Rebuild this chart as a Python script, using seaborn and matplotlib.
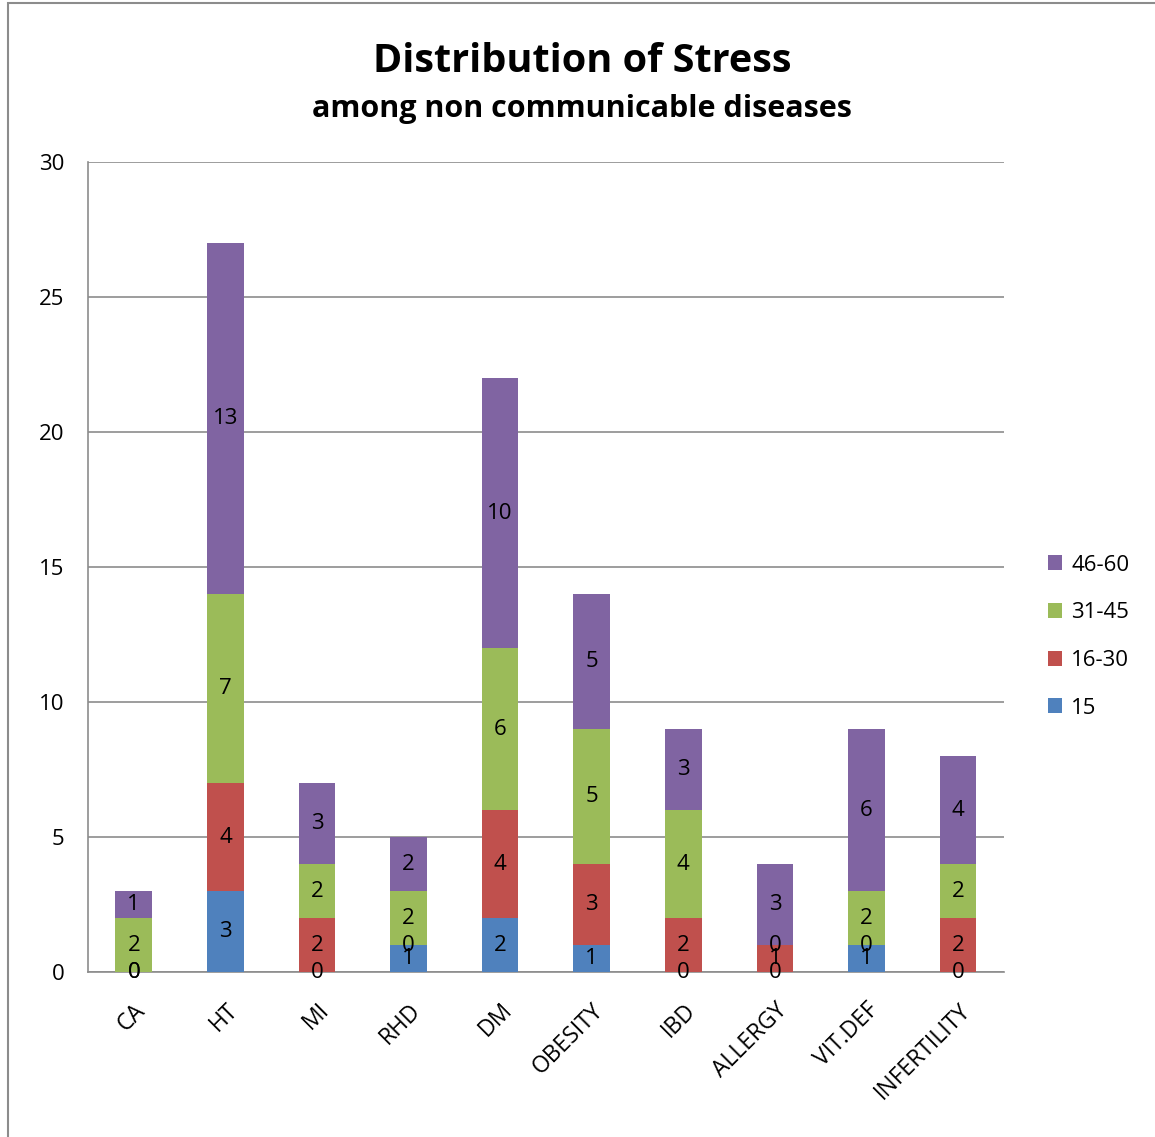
import numpy as np
import pandas as pd
import matplotlib
matplotlib.use("Agg")
import matplotlib.pyplot as plt
import seaborn as sns
from matplotlib.patches import Rectangle

sns.set_style("white")
plt.rcParams['font.family'] = ['Open Sans', 'DejaVu Sans']
plt.rcParams['text.color'] = 'black'
plt.rcParams['xtick.color'] = 'black'
plt.rcParams['ytick.color'] = 'black'

# veriler
diseases = ["CA", "HT", "MI", "RHD", "DM", "OBESITY", "IBD", "ALLERGY", "VIT.DEF", "INFERTILITY"]
g15 = [0, 3, 0, 1, 2, 1, 0, 0, 1, 0]
g16_30 = [0, 4, 2, 0, 4, 3, 2, 1, 0, 2]
g31_45 = [2, 7, 2, 2, 6, 5, 4, 0, 2, 2]
g46_60 = [1, 13, 3, 2, 10, 5, 3, 3, 6, 4]

series = ["15", "16-30", "31-45", "46-60"]
colors = {"15": "#4F81BD", "16-30": "#C0504D", "31-45": "#9BBB59", "46-60": "#8064A2"}

df = pd.DataFrame({"disease": diseases, "15": g15, "16-30": g16_30,
                   "31-45": g31_45, "46-60": g46_60})
cum = df[series].cumsum(axis=1)

fig = plt.figure(figsize=(11.55, 11.37), dpi=100)
ax = fig.add_axes([0.0762, 0.1451, 0.793, 0.7124])

# üstten alta doğru birikimli çubuklar
for s in reversed(series):
    sns.barplot(x=df["disease"], y=cum[s], color=colors[s], width=0.4,
                saturation=1, ax=ax, label=s, zorder=3, linewidth=0)

# segment etiketleri
for i in range(len(diseases)):
    bottom = 0
    for s in series:
        v = df.loc[i, s]
        ax.text(i, bottom + v / 2, str(v), ha="center", va="center",
                fontsize=16, color="black", zorder=5)
        bottom += v

ax.set_ylim(0, 30)
ax.set_xlim(-0.5, len(diseases) - 0.5)
ax.set_yticks(range(0, 31, 5))
ax.yaxis.grid(True, color="#8c8c8c", linewidth=1.2)
ax.set_axisbelow(True)
ax.set_xlabel("")
ax.set_ylabel("")
for side in ["top", "right"]:
    ax.spines[side].set_visible(False)
for side in ["left", "bottom"]:
    ax.spines[side].set_color("#8c8c8c")
    ax.spines[side].set_linewidth(1.2)

ax.set_xticks(np.arange(len(diseases)))
ax.set_xticklabels(diseases, rotation=45, ha="right", rotation_mode="anchor", fontsize=16.5)
ax.tick_params(axis="x", length=0, pad=19)
ax.set_xticks(np.arange(-0.5, len(diseases)), minor=True)
ax.tick_params(axis="x", which="minor", length=7, color="#8c8c8c", width=1.2)
ax.tick_params(axis="y", length=7, color="#8c8c8c", width=1.2, labelsize=16, labelcolor="black", pad=10)

handles, labels = ax.get_legend_handles_labels()
leg = ax.legend(handles, labels, loc="center left", bbox_to_anchor=(1.026, 0.414),
                frameon=False, fontsize=16, handlelength=0.65, handleheight=0.65,
                labelspacing=1.2, handletextpad=0.4)

fig.text(0.504, 0.946, "Distribution of Stress", ha="center", va="center",
         fontsize=28.5, fontweight="bold", color="black")
fig.text(0.504, 0.904, "among non communicable diseases", ha="center", va="center",
         fontsize=22, fontweight="bold", color="black")

fig.patches.append(Rectangle((0.007, -0.01), 1.0, 1.007, transform=fig.transFigure,
                             fill=False, edgecolor="#8c8c8c", linewidth=1.5))

fig.savefig("out.png", dpi=100)
